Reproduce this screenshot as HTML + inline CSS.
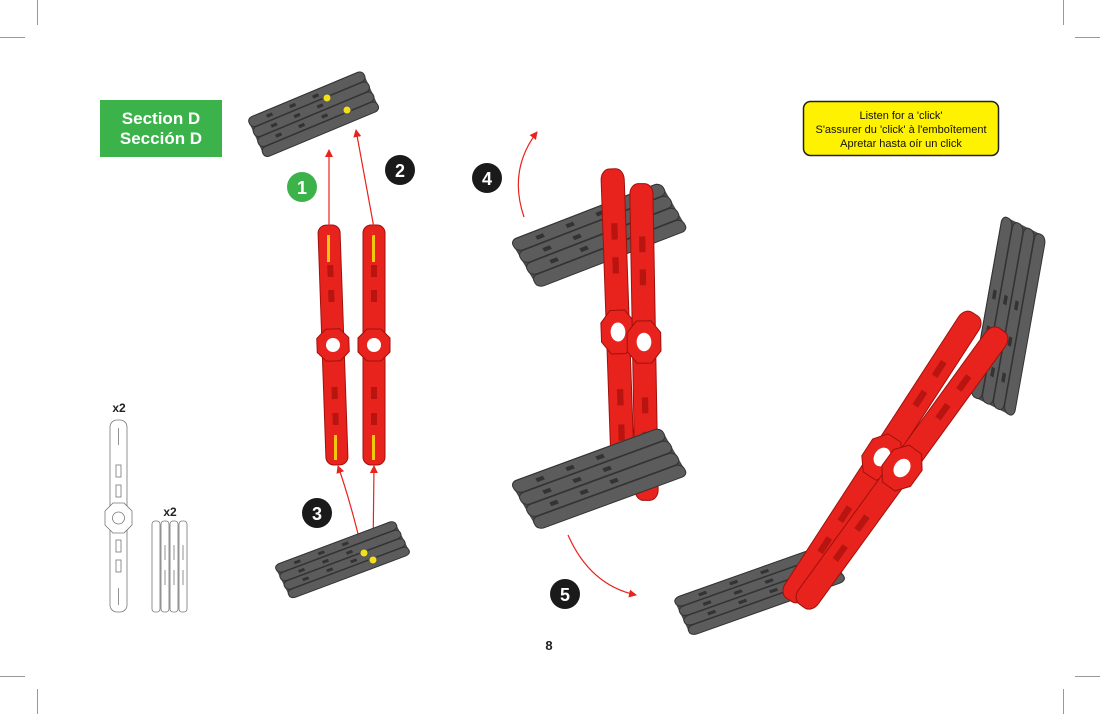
<!DOCTYPE html>
<html><head><meta charset="utf-8"><style>
html,body{margin:0;padding:0;background:#fff;}
body{width:1100px;height:714px;overflow:hidden;position:relative;font-family:"Liberation Sans",sans-serif;}
</style></head><body>
<svg width="1100" height="714" viewBox="0 0 1100 714" xmlns="http://www.w3.org/2000/svg">
<defs>
 <g id="plate">
  <rect x="0" y="0" width="100" height="40" rx="4" fill="#4a4a4a"/>
  <rect x="0" y="0.5" width="100" height="9.5" rx="4" fill="#5c5c5c" stroke="#333" stroke-width="1" vector-effect="non-scaling-stroke"/>
  <rect x="0" y="10.5" width="100" height="9.5" rx="4" fill="#5c5c5c" stroke="#333" stroke-width="1" vector-effect="non-scaling-stroke"/>
  <rect x="0" y="20.5" width="100" height="9.5" rx="4" fill="#5c5c5c" stroke="#333" stroke-width="1" vector-effect="non-scaling-stroke"/>
  <rect x="0" y="30.5" width="100" height="9.5" rx="4" fill="#5c5c5c" stroke="#333" stroke-width="1" vector-effect="non-scaling-stroke"/>
  <g fill="#333">
   <rect x="15" y="4" width="5" height="3"/><rect x="35" y="4" width="5" height="3"/><rect x="55" y="4" width="5" height="3"/>
   <rect x="15" y="14" width="5" height="3"/><rect x="35" y="14" width="5" height="3"/><rect x="55" y="14" width="5" height="3"/>
   <rect x="15" y="24" width="5" height="3"/><rect x="35" y="24" width="5" height="3"/><rect x="55" y="24" width="5" height="3"/>
  </g>
 </g>
 <g id="bar">
  <rect x="-11" y="-120" width="22" height="240" rx="8" fill="#e8231d" stroke="#a0100c" stroke-width="1" vector-effect="non-scaling-stroke"/>
  <polygon points="-7,-16 7,-16 16,-7 16,7 7,16 -7,16 -16,7 -16,-7" fill="#e8231d" stroke="#a0100c" stroke-width="1" vector-effect="non-scaling-stroke"/>
  <circle cx="0" cy="0" r="7" fill="#fff"/>
  <g fill="#b81511"><rect x="-3" y="-80" width="6" height="12"/><rect x="-3" y="-55" width="6" height="12"/><rect x="-3" y="42" width="6" height="12"/><rect x="-3" y="68" width="6" height="12"/></g>
 </g>
 <marker id="ah" markerWidth="8" markerHeight="8" refX="7" refY="4" orient="auto" markerUnits="userSpaceOnUse"><path d="M0,0 L8,4 L0,8 z" fill="#e8231d"/></marker>
</defs>

<g stroke="#999" stroke-width="1">
 <line x1="37.5" y1="0" x2="37.5" y2="25"/><line x1="1063.5" y1="0" x2="1063.5" y2="25"/>
 <line x1="0" y1="37.5" x2="25" y2="37.5"/><line x1="1075" y1="37.5" x2="1100" y2="37.5"/>
 <line x1="0" y1="676.5" x2="25" y2="676.5"/><line x1="1075" y1="676.5" x2="1100" y2="676.5"/>
 <line x1="37.5" y1="689" x2="37.5" y2="714"/><line x1="1063.5" y1="689" x2="1063.5" y2="714"/>
</g>

<rect x="100" y="100" width="122" height="57" fill="#3cb34a"/>
<text x="161" y="124" text-anchor="middle" font-size="17" font-weight="bold" fill="#fff">Section D</text>
<text x="161" y="144" text-anchor="middle" font-size="17" font-weight="bold" fill="#fff">Sección D</text>

<rect x="803.5" y="101.5" width="195" height="54" rx="7" fill="#fff200" stroke="#222" stroke-width="1.5"/>
<text x="901" y="119" text-anchor="middle" font-size="11" fill="#111">Listen for a 'click'</text>
<text x="901" y="133" text-anchor="middle" font-size="11" fill="#111">S'assurer du 'click' à l'emboîtement</text>
<text x="901" y="147" text-anchor="middle" font-size="11" fill="#111">Apretar hasta oír un click</text>

<use href="#plate" transform="matrix(1.15,-0.48,0.45,1.0,247,118)"/>
<circle cx="327" cy="98" r="4" fill="#f2e11a" stroke="#555"/><circle cx="347" cy="110" r="4" fill="#f2e11a" stroke="#555"/>
<use href="#bar" transform="translate(333,345) rotate(-2)"/>
<use href="#bar" transform="translate(374,345)"/>
<rect x="327" y="232" width="3" height="30" fill="#f2c80f"/><rect x="372" y="232" width="3" height="30" fill="#f2c80f"/>
<rect x="334" y="435" width="3" height="25" fill="#f2c80f"/><rect x="372" y="435" width="3" height="25" fill="#f2c80f"/>
<g stroke="#e8231d" stroke-width="1.2" fill="none">
 <line x1="329" y1="228" x2="329" y2="150" marker-end="url(#ah)" marker-start="url(#ah)"/>
 <line x1="374" y1="228" x2="356" y2="130" marker-end="url(#ah)" marker-start="url(#ah)"/>
 <path d="M362,550 Q350,500 338,466" marker-end="url(#ah)"/>
 <line x1="373" y1="555" x2="374" y2="466" marker-end="url(#ah)"/>
 <path d="M524,217 Q508,170 537,132" marker-end="url(#ah)"/>
 <path d="M568,535 Q590,585 636,595" marker-end="url(#ah)"/>
</g>
<use href="#plate" transform="matrix(1.2,-0.45,0.42,0.85,274,565)"/>
<circle cx="364" cy="553" r="4" fill="#f2e11a" stroke="#555"/><circle cx="373" cy="560" r="4" fill="#f2e11a" stroke="#555"/>

<circle cx="302" cy="187" r="15" fill="#3cb34a"/><text x="302" y="194" text-anchor="middle" font-size="18" font-weight="bold" fill="#fff">1</text>
<circle cx="400" cy="170" r="15" fill="#1a1a1a"/><text x="400" y="177" text-anchor="middle" font-size="18" font-weight="bold" fill="#fff">2</text>
<circle cx="317" cy="513" r="15" fill="#1a1a1a"/><text x="317" y="520" text-anchor="middle" font-size="18" font-weight="bold" fill="#fff">3</text>
<circle cx="487" cy="178" r="15" fill="#1a1a1a"/><text x="487" y="185" text-anchor="middle" font-size="18" font-weight="bold" fill="#fff">4</text>
<circle cx="565" cy="594" r="15" fill="#1a1a1a"/><text x="565" y="601" text-anchor="middle" font-size="18" font-weight="bold" fill="#fff">5</text>

<use href="#plate" transform="matrix(1.5,-0.58,0.7,1.2,510,240)"/>
<use href="#bar" transform="translate(618,332) rotate(-2) scale(1.05,1.36)"/>
<use href="#bar" transform="translate(644,342) rotate(-1) scale(1.05,1.32)"/>
<use href="#plate" transform="matrix(1.5,-0.55,0.7,1.2,510,482)"/>

<use href="#plate" transform="matrix(0.32,-1.8,1.1,0.55,970,395)"/>
<use href="#plate" transform="matrix(1.55,-0.55,0.45,0.95,673,598)"/>
<use href="#bar" transform="translate(882,457) rotate(33) scale(1.1,1.42)"/>
<use href="#bar" transform="translate(902,468) rotate(36) scale(1.1,1.42)"/>

<text x="119" y="412" text-anchor="middle" font-size="12" font-weight="bold" fill="#222">x2</text>
<g fill="none" stroke="#777" stroke-width="0.8">
 <rect x="110" y="420" width="17" height="192" rx="7"/>
 <polygon points="113,503 124,503 132,511 132,525 124,533 113,533 105,525 105,511" fill="#fff"/>
 <circle cx="118.5" cy="518" r="6"/>
 <rect x="116" y="465" width="5" height="12"/><rect x="116" y="485" width="5" height="12"/>
 <rect x="116" y="540" width="5" height="12"/><rect x="116" y="560" width="5" height="12"/>
 <line x1="118.5" y1="428" x2="118.5" y2="445"/><line x1="118.5" y1="588" x2="118.5" y2="605"/>
</g>
<text x="170" y="516" text-anchor="middle" font-size="12" font-weight="bold" fill="#222">x2</text>
<g fill="none" stroke="#777" stroke-width="0.8">
 <rect x="152" y="521" width="8" height="91" rx="3"/><rect x="161" y="521" width="8" height="91" rx="3"/>
 <rect x="170" y="521" width="8" height="91" rx="3"/><rect x="179" y="521" width="8" height="91" rx="3"/>
 <line x1="165" y1="545" x2="165" y2="560"/><line x1="174" y1="545" x2="174" y2="560"/><line x1="183" y1="545" x2="183" y2="560"/>
 <line x1="165" y1="570" x2="165" y2="585"/><line x1="174" y1="570" x2="174" y2="585"/><line x1="183" y1="570" x2="183" y2="585"/>
</g>

<text x="549" y="650" text-anchor="middle" font-size="13" font-weight="bold" fill="#222">8</text>
</svg>
</body></html>
